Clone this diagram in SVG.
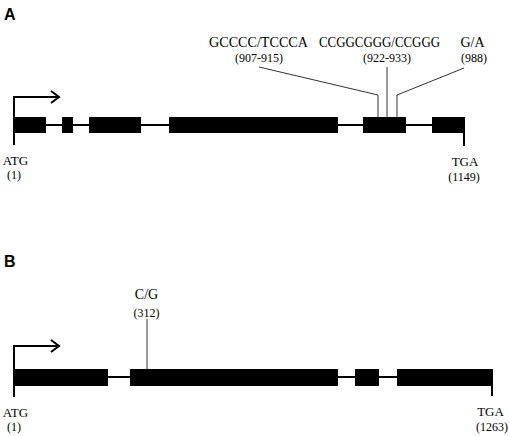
<svg xmlns="http://www.w3.org/2000/svg" width="510" height="436" viewBox="0 0 510 436">
<defs>
<style>
.panel{font-family:"Liberation Sans",Arial,sans-serif;font-weight:bold;font-size:16px;fill:#000}
.lbl{font-family:"Liberation Serif","Times New Roman",serif;font-size:14px;fill:#000}
.num{font-family:"Liberation Serif","Times New Roman",serif;font-size:12px;fill:#000}
.exon{fill:#000}
.intron{stroke:#000;stroke-width:2;fill:none}
.tick{stroke:#000;stroke-width:2;fill:none}
.lead{stroke:#333;stroke-width:1;fill:none}
</style>
</defs>
<rect width="510" height="436" fill="#fff"/>
<text class="panel" x="4" y="20">A</text>
<text class="panel" x="4" y="267">B</text>

<g id="geneA">
<line class="intron" x1="15" y1="125" x2="464" y2="125"/>
<rect id="A-exon1" class="exon" x="15" y="117" width="31" height="16"/>
<rect id="A-exon2" class="exon" x="62" y="117" width="11" height="16"/>
<rect id="A-exon3" class="exon" x="89" y="117" width="52" height="16"/>
<rect id="A-exon4" class="exon" x="169" y="117" width="169" height="16"/>
<rect id="A-exon5" class="exon" x="363" y="117" width="43" height="16"/>
<rect id="A-exon6" class="exon" x="432" y="117" width="33" height="16"/>
</g>
<g id="startA">
<path class="tick" d="M14,145 V97 H59"/>
<path class="tick" d="M51,91 L59,97 L51,103"/>
<text class="lbl" x="15.5" y="165" text-anchor="middle" style="font-size:13px">ATG</text>
<text class="num" x="14" y="179" text-anchor="middle">(1)</text>
</g>
<g id="stopA">
<line class="tick" x1="464" y1="117" x2="464" y2="146"/>
<text class="lbl" x="465" y="166" text-anchor="middle" style="font-size:13px">TGA</text>
<text class="num" x="464" y="181" text-anchor="middle">(1149)</text>
</g>
<g id="snp1">
<text class="lbl" x="209" y="47" textLength="99" lengthAdjust="spacingAndGlyphs">GCCCC/TCCCA</text>
<text class="num" x="259" y="62" text-anchor="middle">(907-915)</text>
</g>
<g id="snp2">
<text class="lbl" x="319" y="47" textLength="121" lengthAdjust="spacingAndGlyphs">CCGGCGGG/CCGGG</text>
<text class="num" x="387" y="62" text-anchor="middle">(922-933)</text>
</g>
<g id="snp3">
<text class="lbl" x="472.5" y="47" text-anchor="middle">G/A</text>
<text class="num" x="474" y="62" text-anchor="middle">(988)</text>
</g>

<g id="geneB">
<line class="intron" x1="15" y1="377" x2="492" y2="377"/>
<rect id="B-exon1" class="exon" x="15" y="369" width="93" height="17"/>
<rect id="B-exon2" class="exon" x="130" y="369" width="208" height="17"/>
<rect id="B-exon3" class="exon" x="355" y="369" width="24" height="17"/>
<rect id="B-exon4" class="exon" x="397" y="369" width="96" height="17"/>
</g>
<g id="startB">
<path class="tick" d="M14,397 V346 H59"/>
<path class="tick" d="M51,340 L59,346 L51,352"/>
<text class="lbl" x="15.5" y="417" text-anchor="middle" style="font-size:13px">ATG</text>
<text class="num" x="14" y="431" text-anchor="middle">(1)</text>
</g>
<g id="stopB">
<line class="tick" x1="492" y1="369" x2="492" y2="396"/>
<text class="lbl" x="490.5" y="416" text-anchor="middle" style="font-size:13px">TGA</text>
<text class="num" x="492" y="431" text-anchor="middle">(1263)</text>
</g>
<g id="snpB">
<text class="lbl" x="146.5" y="299" text-anchor="middle">C/G</text>
<text class="num" x="146.5" y="317" text-anchor="middle">(312)</text>
</g>

<g id="connectors">
<path class="lead" d="M259,67 L378,95 V117"/>
<path class="lead" d="M387,67 V117"/>
<path class="lead" d="M464,68 L397,95 V117"/>
<path class="lead" d="M147,319 V369"/>
</g>
</svg>
